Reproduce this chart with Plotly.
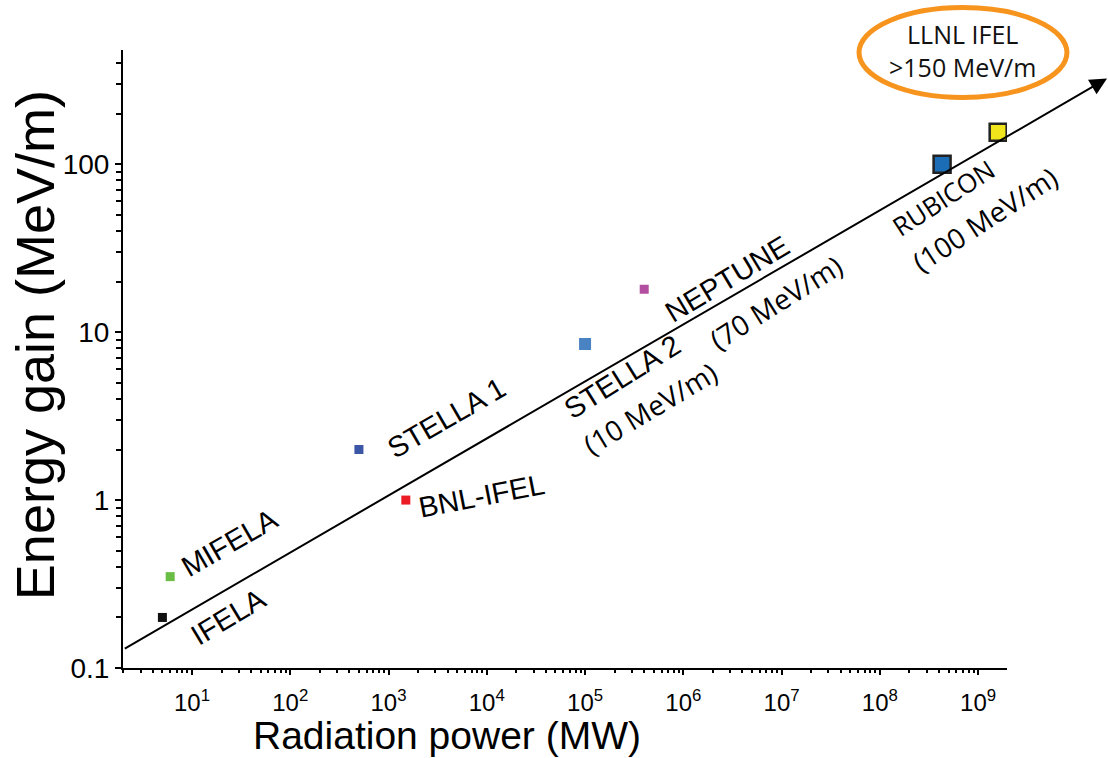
import math
import plotly.graph_objects as go

# ---------------- data ----------------
names = ["IFELA", "MIFELA", "STELLA 1", "BNL-IFEL", "STELLA 2", "NEPTUNE", "RUBICON", "LLNL IFEL"]
power_mw = [5.0, 6.0, 500.0, 1500.0, 1.0e5, 4.0e5, 4.3e8, 1.6e9]
gain_mev_m = [0.2, 0.35, 2.0, 1.0, 8.5, 18.0, 100.0, 155.0]
marker_colors = ["#111111", "#6abd45", "#3b56a4", "#ec1c24", "#4a83c3", "#b34fa0", "#1b6db5", "#f1e61c"]
marker_sizes = [9, 9, 9, 9, 12, 9, 17, 17]
marker_border = [0, 0, 0, 0, 0, 0, 2.5, 2.5]

# trend arrow (start / end, data units)
trend_x = [2.0, 2.05e10]
trend_y = [0.129, 324.0]

# rotated text labels
label_text = ["MIFELA", "IFELA", "STELLA 1", "BNL-IFEL", "STELLA 2", "(10 MeV/m)",
              "NEPTUNE", "(70 MeV/m)", "RUBICON", "(100 MeV/m)"]
label_x = [23.9, 23.4, 3865, 8770, 2.38e5, 4.59e5, 2.79e6, 8.79e6, 4.40e8, 1.17e9]
label_y = [0.554, 0.2005, 3.10, 1.055, 5.40, 3.55, 20.7, 15.1, 62.7, 47.1]
label_angle = [-30, -31, -30, -11, -32, -31, -31, -32, -33, -33]
label_size = [29, 29, 29, 29, 29, 28, 29, 28, 26, 28]

callout_text = "LLNL IFEL<br>&gt;150 MeV/m"

x_tickvals = [10 ** k for k in range(1, 10)]
x_ticktext = ["10<sup>%d</sup>" % k for k in range(1, 10)]
y_tickvals = [0.1, 1, 10, 100]
y_ticktext = ["0.1", "1", "10", "100"]

x_minor = [m * 10 ** k for k in range(0, 10) for m in range(2, 10)]
y_minor = [m * 10 ** k for k in range(-1, 3) for m in range(2, 10)]

# ---------------- figure ----------------
fig = go.Figure()
fig.add_trace(go.Scatter(
    x=power_mw, y=gain_mev_m, mode="markers", text=names,
    marker=dict(symbol="square", size=marker_sizes, color=marker_colors, opacity=1,
                line=dict(color="#222222", width=marker_border)),
    showlegend=False, hoverinfo="text+x+y"))

ANN_FONT = "Liberation Sans, Arial, sans-serif"
ALT_FONT = "Open Sans, sans-serif"

# trend arrow
fig.add_annotation(
    x=math.log10(trend_x[1]), y=math.log10(trend_y[1]),
    ax=math.log10(trend_x[0]), ay=math.log10(trend_y[0]),
    xref="x", yref="y", axref="x", ayref="y",
    text="", showarrow=True, arrowhead=2, arrowsize=1.7, arrowwidth=2,
    arrowcolor="black", standoff=0, startstandoff=0)

for t, lx, ly, ang, sz in zip(label_text, label_x, label_y, label_angle, label_size):
    fam = ALT_FONT if ("MeV" in t or t == "RUBICON") else ANN_FONT
    fig.add_annotation(x=math.log10(lx), y=math.log10(ly), xref="x", yref="y",
                       text=t, showarrow=False, textangle=ang,
                       xanchor="center", yanchor="middle",
                       font=dict(family=fam, size=sz, color="black"))

# LLNL callout
fig.add_shape(type="circle", xref="paper", yref="paper",
              x0=0.8326, x1=1.0678, y0=0.9232, y1=1.0687,
              line=dict(color="#f7941d", width=5))
fig.add_annotation(x=0.9502, y=0.9992, xref="paper", yref="paper",
                   text=callout_text, showarrow=False,
                   xanchor="center", yanchor="middle",
                   font=dict(family=ALT_FONT, size=25, color="#111111"))

# axis titles
fig.add_annotation(x=0.3667, y=-0.1085, xref="paper", yref="paper",
                   text="Radiation power (MW)", showarrow=False,
                   xanchor="center", yanchor="middle",
                   font=dict(family=ANN_FONT, size=39, color="black"))
fig.add_annotation(x=-0.0992, y=0.5229, xref="paper", yref="paper",
                   text="Energy gain (MeV/m)", showarrow=False, textangle=-90,
                   xanchor="center", yanchor="middle",
                   font=dict(family=ANN_FONT, size=54, color="black"))

fig.update_layout(
    width=1108, height=758,
    margin=dict(l=123, r=101, t=50, b=90),
    plot_bgcolor="white", paper_bgcolor="white",
    font=dict(family=ANN_FONT, color="black"),
    xaxis=dict(type="log", range=[0.298, 9.294], showgrid=False, zeroline=False,
               showline=True, linecolor="black", linewidth=2,
               ticks="outside", ticklen=5, tickwidth=2, tickcolor="black",
               tickmode="array", tickvals=x_tickvals, ticktext=x_ticktext,
               ticklabelstandoff=7,
               tickfont=dict(size=24, family=ANN_FONT, color="black"),
               minor=dict(tickmode="array", tickvals=x_minor, ticks="outside",
                          ticklen=3, tickwidth=1.5, tickcolor="black", showgrid=False)),
    yaxis=dict(type="log", range=[-1, 2.680], showgrid=False, zeroline=False,
               showline=True, linecolor="black", linewidth=2,
               ticks="outside", ticklen=6, tickwidth=2, tickcolor="black",
               tickmode="array", tickvals=y_tickvals, ticktext=y_ticktext,
               tickfont=dict(size=28, family=ANN_FONT, color="black"),
               minor=dict(tickmode="array", tickvals=y_minor, ticks="outside",
                          ticklen=5, tickwidth=1.5, tickcolor="black", showgrid=False)),
)

fig.write_html("out.html")
